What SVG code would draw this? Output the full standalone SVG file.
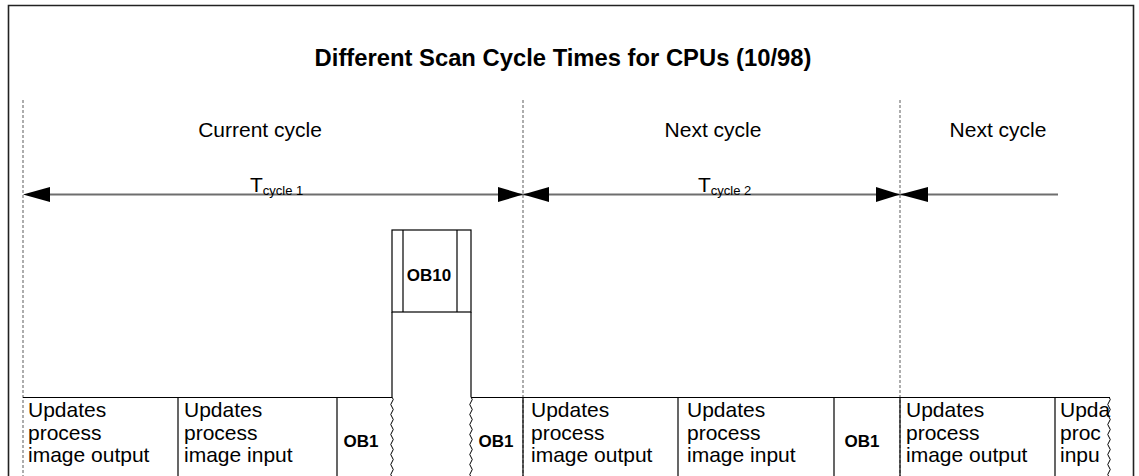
<svg xmlns="http://www.w3.org/2000/svg" width="1139" height="476" viewBox="0 0 1139 476">
<style>
text{font-family:"Liberation Sans",Arial,sans-serif;fill:#000}
.t{font-size:21px}
.b{font-weight:bold;font-size:17px}
.title{font-weight:bold;font-size:23.8px}
.sub{font-size:13px}
.dash{stroke:#777;stroke-width:1.2;stroke-dasharray:3,2;fill:none}
.ln{stroke:#000;stroke-width:1.2;fill:none}
.arr{stroke:#6e6e6e;stroke-width:1.8;fill:none}
.head{fill:#000}
</style>
<defs>
<path id="wave" d="M0,0 q2.5,2.5 0,5 q-2.5,2.5 0,5 q2.5,2.5 0,5 q-2.5,2.5 0,5 q2.5,2.5 0,5 q-2.5,2.5 0,5 q2.5,2.5 0,5 q-2.5,2.5 0,5 q2.5,2.5 0,5 q-2.5,2.5 0,5 q2.5,2.5 0,5 q-2.5,2.5 0,5 q2.5,2.5 0,5 q-2.5,2.5 0,5 q2.5,2.5 0,5 q-2.5,2.5 0,5 q2.5,2.5 0,5" fill="none" stroke="#000" stroke-width="1"/>
</defs>
<g id="frame">
<path d="M8.5,476 V5.5 H1133.5 V476" fill="none" stroke="#222" stroke-width="1.6"/>
</g>
<g id="title"><text class="title" x="563" y="66" text-anchor="middle">Different Scan Cycle Times for CPUs (10/98)</text></g>
<g id="labels">
<text class="t" x="260" y="137" text-anchor="middle">Current cycle</text>
<text class="t" x="713" y="137" text-anchor="middle">Next cycle</text>
<text class="t" x="998" y="137" text-anchor="middle">Next cycle</text>
</g>
<g id="connectors">
<line class="dash" x1="23" y1="100" x2="23" y2="476"/>
<line class="dash" x1="523" y1="100" x2="523" y2="476"/>
<line class="dash" x1="900" y1="100" x2="900" y2="476"/>
<line class="arr" x1="40" y1="194.5" x2="1058" y2="194.5"/>
<polygon class="head" points="23,194.5 50,187 50,202"/>
<polygon class="head" points="523,194.5 498,187 498,202"/>
<polygon class="head" points="523,194.5 549,187 549,202"/>
<polygon class="head" points="900,194.5 876,187 876,202"/>
<polygon class="head" points="900,194.5 928,187 928,202"/>
<text class="t" x="250" y="192">T<tspan class="sub" dy="3">cycle 1</tspan></text>
<text class="t" x="698" y="192">T<tspan class="sub" dy="3">cycle 2</tspan></text>
</g>
<g id="ob10">
<rect class="ln" x="392" y="230" width="79" height="82"/>
<line class="ln" x1="403" y1="230" x2="403" y2="312"/>
<line class="ln" x1="457" y1="230" x2="457" y2="312"/>
<text class="b" x="429" y="281" text-anchor="middle">OB10</text>
<line class="ln" x1="392" y1="312" x2="392" y2="397"/>
<line class="ln" x1="471" y1="312" x2="471" y2="397"/>
<use href="#wave" x="392" y="397"/>
<use href="#wave" x="471" y="397"/>
</g>
<g id="row">
<line class="ln" x1="23" y1="397.5" x2="392" y2="397.5"/>
<line class="ln" x1="471" y1="397.5" x2="1110" y2="397.5"/>
<line class="ln" x1="178" y1="397" x2="178" y2="476"/>
<line class="ln" x1="337" y1="397" x2="337" y2="476"/>
<line class="ln" x1="523" y1="397" x2="523" y2="476"/>
<line class="ln" x1="678" y1="397" x2="678" y2="476"/>
<line class="ln" x1="834" y1="397" x2="834" y2="476"/>
<line class="ln" x1="900" y1="397" x2="900" y2="476"/>
<line class="ln" x1="1055" y1="397" x2="1055" y2="476"/>
<use href="#wave" x="1109" y="397"/>
</g>
<g id="box1"><text class="t" x="28" y="417">Updates<tspan x="28" dy="22.5">process</tspan><tspan x="28" dy="22.5">image output</tspan></text></g>
<g id="box2"><text class="t" x="184" y="417">Updates<tspan x="184" dy="22.5">process</tspan><tspan x="184" dy="22.5">image input</tspan></text></g>
<g id="box3"><text class="b" x="361" y="447" text-anchor="middle">OB1</text></g>
<g id="box4"><text class="b" x="496" y="447" text-anchor="middle">OB1</text></g>
<g id="box5"><text class="t" x="531" y="417">Updates<tspan x="531" dy="22.5">process</tspan><tspan x="531" dy="22.5">image output</tspan></text></g>
<g id="box6"><text class="t" x="687" y="417">Updates<tspan x="687" dy="22.5">process</tspan><tspan x="687" dy="22.5">image input</tspan></text></g>
<g id="box7"><text class="b" x="862" y="447" text-anchor="middle">OB1</text></g>
<g id="box8"><text class="t" x="906" y="417">Updates<tspan x="906" dy="22.5">process</tspan><tspan x="906" dy="22.5">image output</tspan></text></g>
<g id="box9"><text class="t" x="1060" y="417">Upda<tspan x="1060" dy="22.5">proc</tspan><tspan x="1060" dy="22.5">inpu</tspan></text></g>
</svg>
